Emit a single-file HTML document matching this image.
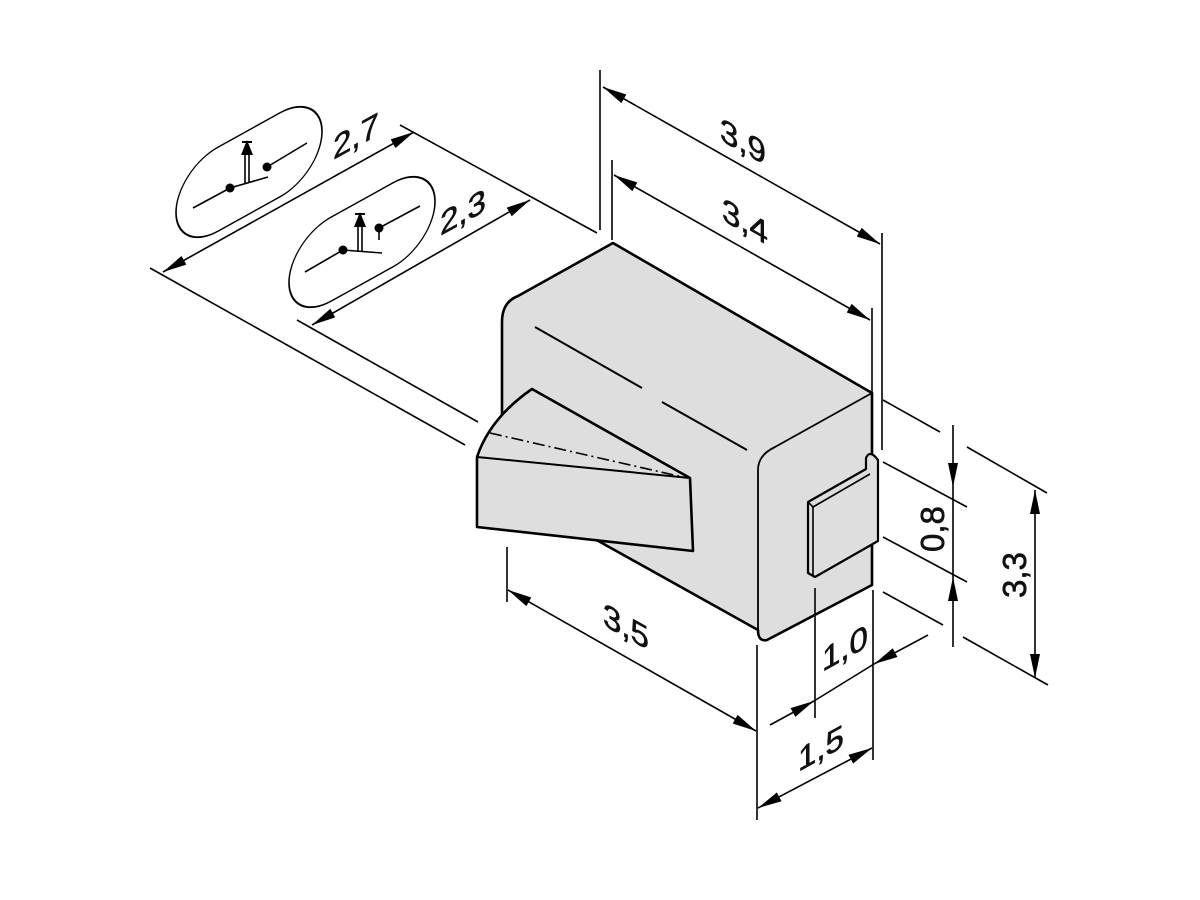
<!DOCTYPE html>
<html><head><meta charset="utf-8"><style>
html,body{margin:0;padding:0;background:#fff}
svg{display:block}
text{font-family:"Liberation Sans",sans-serif;font-size:33px;fill:#111;stroke:#111;stroke-width:0.6}
</style></head><body>
<svg width="1200" height="900" viewBox="0 0 1200 900" xmlns="http://www.w3.org/2000/svg">
<defs>
<marker id="a" viewBox="0 0 24 10" refX="24" refY="5" markerWidth="24" markerHeight="10" markerUnits="userSpaceOnUse" orient="auto-start-reverse">
<path d="M0,0 L24,5 L0,10 Z" fill="#000"/>
</marker>
</defs>
<g stroke="#000" stroke-width="1.6" fill="none">
<line x1="600" y1="70" x2="600" y2="230"/>
<line x1="612" y1="160" x2="612" y2="240"/>
<line x1="882" y1="233" x2="882" y2="450"/>
<line x1="872" y1="308" x2="872" y2="395"/>
<line x1="603" y1="87" x2="880" y2="244" marker-start="url(#a)" marker-end="url(#a)"/>
<line x1="614" y1="175" x2="870" y2="320" marker-start="url(#a)" marker-end="url(#a)"/>
<line x1="150" y1="268" x2="465" y2="445"/>
<line x1="400" y1="125" x2="597" y2="233"/>
<line x1="297" y1="320" x2="478" y2="422"/>
<line x1="163" y1="272" x2="414" y2="132" marker-start="url(#a)" marker-end="url(#a)"/>
<line x1="312" y1="325" x2="530" y2="200" marker-start="url(#a)" marker-end="url(#a)"/>
<g transform="translate(249,172) skewY(-29)"><rect x="-73" y="-42" width="146" height="84" rx="42" ry="42"/></g>
<g transform="translate(362,242) skewY(-29)"><rect x="-73" y="-42" width="146" height="84" rx="42" ry="42"/></g>
<line x1="193" y1="208" x2="230" y2="188"/>
<line x1="230" y1="188" x2="268" y2="177"/>
<line x1="267" y1="167" x2="307" y2="143"/>
<line x1="245" y1="183" x2="245" y2="150"/><line x1="249" y1="182" x2="249" y2="150"/>
<line x1="305" y1="272" x2="343" y2="250"/>
<line x1="343" y1="250" x2="382" y2="253"/>
<line x1="379" y1="228" x2="420" y2="206"/>
<line x1="379" y1="228" x2="379" y2="240"/>
<line x1="358" y1="252" x2="358" y2="222"/><line x1="362" y1="252" x2="362" y2="222"/>
</g>
<g fill="#000">
<circle cx="230" cy="188" r="4.5"/><circle cx="267" cy="167" r="4.5"/>
<path d="M241,155 L247,140 L253,155 Z"/><line x1="242" y1="142" x2="252" y2="142" stroke="#000" stroke-width="2"/>
<circle cx="343" cy="250" r="4.5"/><circle cx="379" cy="228" r="4.5"/>
<path d="M354,227 L360,212 L366,227 Z"/><line x1="355" y1="214" x2="365" y2="214" stroke="#000" stroke-width="2"/>
</g>
<g stroke="#000" stroke-width="2.6" stroke-linejoin="round" fill="#dedede">
<path d="M613,243 L872,393 L872,585 L767,640 Q758,642 758,630 L593,538 L502,480 L502,322 Q502,302 518,296 Z"/>
<path d="M872,393 L775,447 Q758,455 758,470 L758,630" fill="none" stroke-width="1.8"/>
<path d="M532,389 L690,478 L693,551 L477,527 L477,457 Q490,418 532,389 Z"/>
<path d="M477,457 L690,478" fill="none" stroke-width="2"/>
<path d="M808,502 L866,469 L866,458 Q870,449 878,460 L878,541 L815,577 L808,573 Z" stroke-width="2.2"/>
<path d="M813,507 L870,474 M813,507 L813,577 M808,502 L813,507" fill="none" stroke-width="1.6"/>
</g>
<g stroke="#000" stroke-width="1.6" fill="none">
<line x1="490" y1="433" x2="687" y2="478" stroke-dasharray="12,4,2,4"/>
<line x1="535" y1="327" x2="642" y2="388" stroke-width="2"/>
<line x1="662" y1="402" x2="747" y2="450" stroke-width="2"/>
<line x1="507" y1="547" x2="507" y2="602"/>
<line x1="757" y1="645" x2="757" y2="820"/>
<line x1="508" y1="590" x2="756" y2="731" marker-start="url(#a)" marker-end="url(#a)"/>
<line x1="873" y1="590" x2="873" y2="760"/>
<line x1="815" y1="588" x2="815" y2="718"/>
<line x1="758" y1="808" x2="872" y2="748" marker-start="url(#a)" marker-end="url(#a)"/>
<line x1="770" y1="725" x2="814" y2="701" marker-end="url(#a)"/>
<line x1="928" y1="635" x2="874" y2="664" marker-end="url(#a)"/>
<line x1="814" y1="701" x2="874" y2="664"/>
<line x1="883" y1="462" x2="967" y2="507"/>
<line x1="883" y1="537" x2="967" y2="582"/>
<line x1="953" y1="425" x2="953" y2="487" marker-end="url(#a)"/>
<line x1="953" y1="647" x2="953" y2="577" marker-end="url(#a)"/>
<line x1="953" y1="487" x2="953" y2="577"/>
<line x1="883" y1="400" x2="940" y2="432"/>
<line x1="967" y1="447" x2="1047" y2="493"/>
<line x1="883" y1="592" x2="943" y2="625"/>
<line x1="963" y1="637" x2="1048" y2="685"/>
<line x1="1035" y1="490" x2="1035" y2="678" marker-start="url(#a)" marker-end="url(#a)"/>
</g>
<text transform="translate(720,140) skewY(29)">3,9</text>
<text transform="translate(722,220) skewY(29)">3,4</text>
<text transform="translate(603,625) skewY(29)">3,5</text>
<text transform="translate(333,160) skewY(-29)">2,7</text>
<text transform="translate(440,236) skewY(-29)">2,3</text>
<text transform="translate(798,772) skewY(-29)">1,5</text>
<text transform="translate(822,672) skewY(-29)">1,0</text>
<text transform="translate(944,552) rotate(-90)">0,8</text>
<text transform="translate(1026,598) rotate(-90)">3,3</text>
</svg>
</body></html>
